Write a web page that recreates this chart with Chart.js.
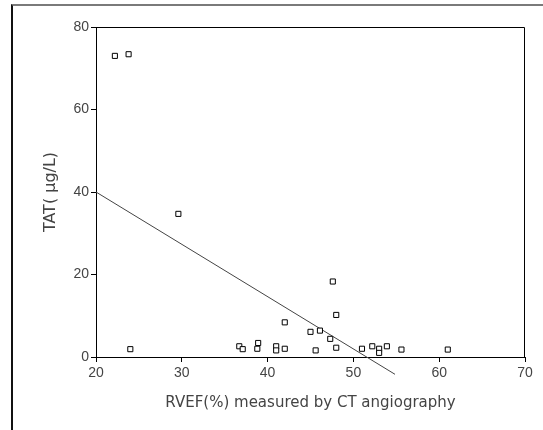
<!DOCTYPE html>
<html><head><meta charset="utf-8">
<script src="https://cdn.jsdelivr.net/npm/chart.js@4"></script>
<style>
html,body{margin:0;padding:0;background:#fff;}
#wrap{position:relative;width:543px;height:430px;overflow:hidden;}
#frame{position:absolute;left:11px;top:4px;width:560px;height:460px;border-top:2px solid #7a7a7a;border-left:2px solid #111;}
canvas{position:absolute;left:0;top:0;}
</style></head><body>
<div id="wrap"><div id="frame"></div><canvas id="c" width="543" height="430"></canvas></div>
<script>
// RVEF (%) measured by CT angiography
const rvef = [22.2, 23.8, 24.0, 29.6, 36.7, 37.1, 38.9, 38.8, 41.0, 41.0, 42.0, 42.0,
              45.0, 45.6, 46.1, 47.3, 47.6, 48.0, 48.0, 51.0, 52.2, 53.0, 53.0, 53.9, 55.6, 61.0];
// TAT (μg/L)
const tat  = [73.0, 73.4, 1.9, 34.7, 2.6, 1.9, 3.4, 2.0, 2.6, 1.6, 8.4, 2.0,
              6.1, 1.6, 6.4, 4.4, 18.3, 10.2, 2.25, 2.0, 2.6, 2.0, 1.0, 2.6, 1.8, 1.8];
// regression line end points
const fitX = [20, 54.85];
const fitY = [40, -4.2];
const xTicks = [20, 30, 40, 50, 60, 70];
const yTicks = [0, 20, 40, 60, 80];

const tickFont = {family: "'Liberation Sans', Arial, sans-serif", size: 14};
const titleFont = {family: "'DejaVu Sans', sans-serif", size: 15};
const txtColor = '#444';

const boxPlugin = {
  id: 'box',
  beforeDatasetsDraw(chart) {
    const a = chart.chartArea, ctx = chart.ctx;
    ctx.save();
    ctx.strokeStyle = '#000';
    ctx.lineWidth = 1;
    ctx.beginPath();
    ctx.moveTo(96, a.top + 0.5);
    ctx.lineTo(a.right - 0.5, a.top + 0.5);
    ctx.lineTo(a.right - 0.5, a.bottom);
    ctx.stroke();
    ctx.restore();
  }
};

new Chart(document.getElementById('c'), {
  type: 'scatter',
  data: {
    datasets: [
      {
        type: 'line',
        data: fitX.map((x, i) => ({x: x, y: fitY[i]})),
        borderColor: '#444',
        borderWidth: 1,
        pointRadius: 0,
        fill: false,
        clip: false,
        order: 2
      },
      {
        data: rvef.map((x, i) => ({x: x, y: tat[i]})),
        pointStyle: 'rect',
        pointRadius: 3.6,
        borderColor: '#000',
        borderWidth: 1,
        backgroundColor: '#fff',
        order: 1
      }
    ]
  },
  options: {
    responsive: false,
    animation: false,
    devicePixelRatio: 1,
    layout: {padding: {top: 27, right: 18, left: 0, bottom: 0}},
    plugins: {legend: {display: false}, tooltip: {enabled: false}},
    scales: {
      x: {
        type: 'linear', min: 20, max: 70,
        afterBuildTicks: s => { s.ticks = xTicks.map(v => ({value: v})); },
        afterFit: s => { s.height = 73; },
        grid: {drawOnChartArea: false, drawTicks: true, tickLength: 5, color: '#000'},
        border: {display: true, color: '#000', width: 1},
        ticks: {font: tickFont, color: txtColor, padding: 3, maxRotation: 0},
        title: {display: true, text: 'RVEF(%) measured by CT angiography', font: titleFont, color: txtColor, padding: {top: 0, bottom: 18}}
      },
      y: {
        type: 'linear', min: 0, max: 80,
        afterBuildTicks: s => { s.ticks = yTicks.map(v => ({value: v})); },
        afterFit: s => { s.width = 96; },
        grid: {drawOnChartArea: false, drawTicks: true, tickLength: 5, color: '#000'},
        border: {display: true, color: '#000', width: 1},
        ticks: {font: tickFont, color: txtColor, padding: 2},
        title: {display: true, text: 'TAT( μg/L)', font: {family: "'DejaVu Sans', sans-serif", size: 16}, color: txtColor, padding: {top: 41, bottom: 0}}
      }
    }
  },
  plugins: [boxPlugin]
});
</script>
</body></html>
